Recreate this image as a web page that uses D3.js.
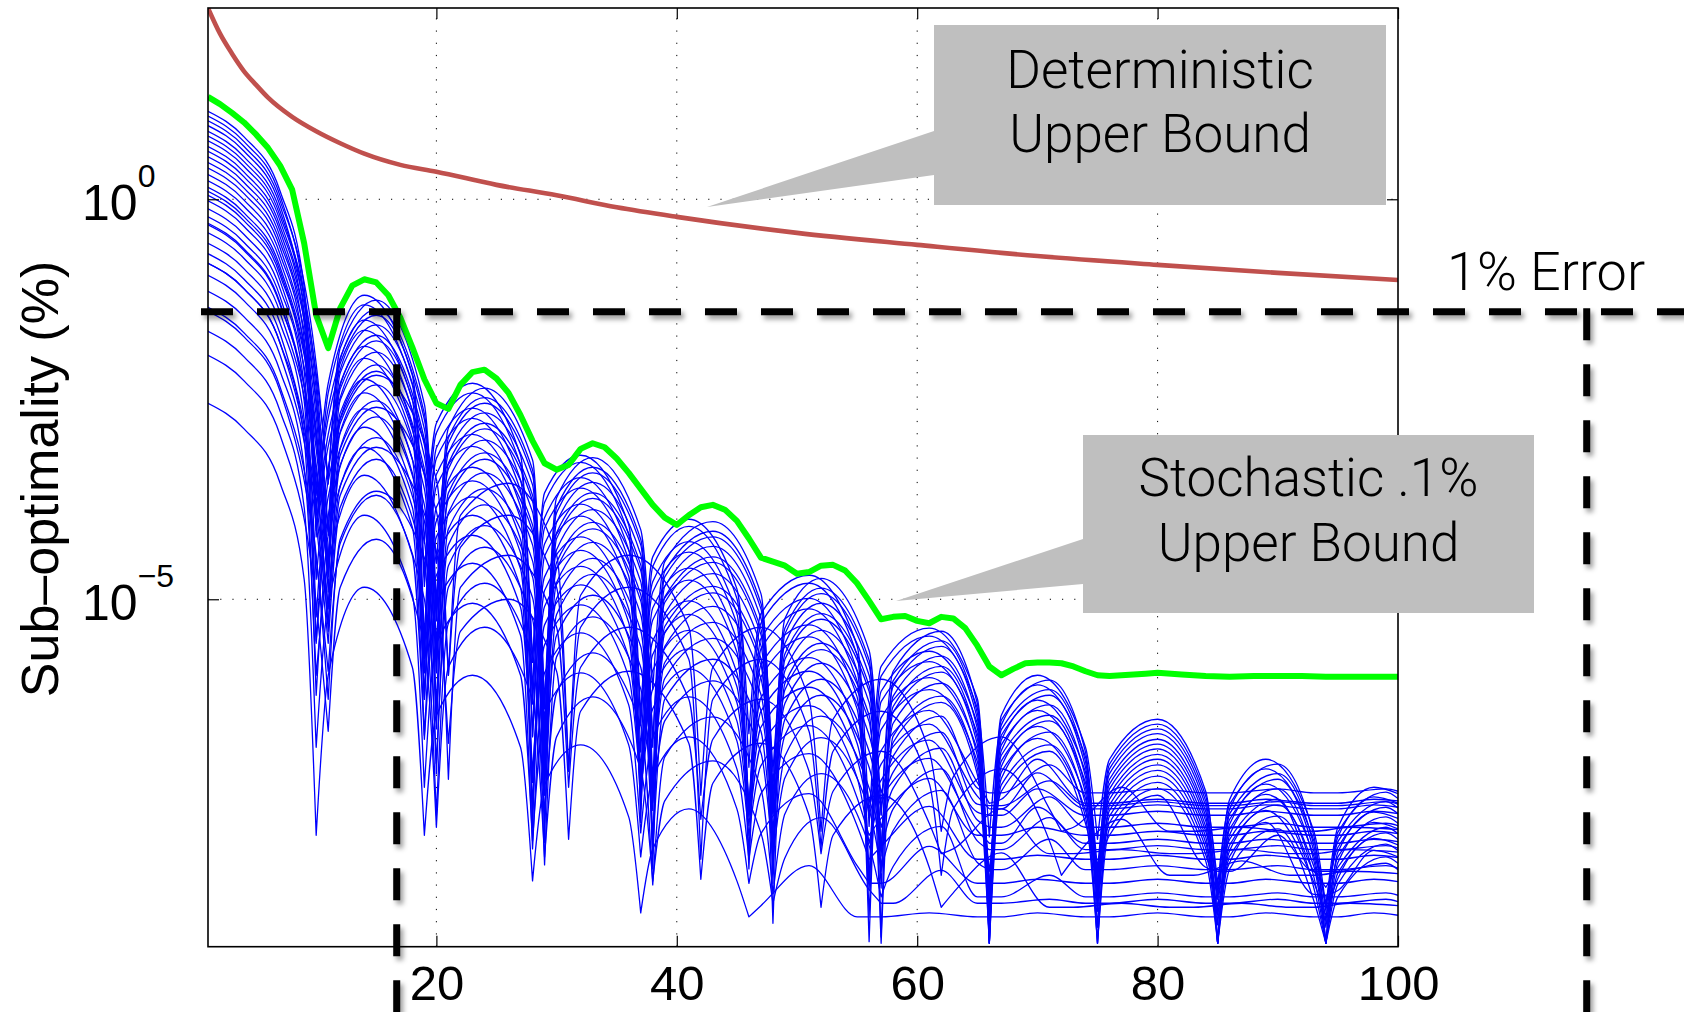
<!DOCTYPE html>
<html>
<head>
<meta charset="utf-8">
<script src="https://cdn.jsdelivr.net/npm/d3@7"></script>
<style>
  html, body { margin: 0; padding: 0; background: #fff; }
  svg { display: block; }
</style>
</head>
<body>
<svg id="chart" width="1684" height="1012"></svg>
<script>
// ---- Data (all error values are stored as log10 of the sub-optimality) ----

// Axis limits (log10) and ticks
const yMinLog10 = -9.343;
const yMaxLog10 = 2.391;
const xTickValues = [20, 40, 60, 80, 100];
const yTickExponents = [0, -5];

// Deterministic upper bound (red)
const deterministicBound = [
  [1, 2.39], [2, 2.07], [3, 1.82], [4, 1.60], [5, 1.43], [6, 1.27], [8, 1.03],
  [10, 0.85], [12, 0.70], [14, 0.57], [17, 0.43], [20, 0.345], [25, 0.18],
  [30, 0.05], [35, -0.10], [40, -0.22], [50, -0.42], [60, -0.57], [70, -0.71],
  [80, -0.82], [90, -0.92], [100, -1.01]
];

// Stochastic 0.1% upper bound (green)
const stochasticBound = [
  [1, 1.28], [2, 1.19], [3, 1.08], [4, 0.96], [5, 0.81], [6, 0.64], [7, 0.42], [8, 0.12],
  [9, -0.55], [10, -1.45], [11, -1.86], [12, -1.36], [13, -1.08], [14, -1.00], [15, -1.04],
  [16, -1.20], [17, -1.48], [18, -1.85], [19, -2.25], [20, -2.55], [21, -2.62], [22, -2.32],
  [23, -2.16], [24, -2.13], [25, -2.24], [26, -2.42], [27, -2.70], [28, -3.02], [29, -3.30],
  [30, -3.38], [31, -3.32], [32, -3.12], [33, -3.05], [34, -3.10], [35, -3.24], [36, -3.42],
  [37, -3.62], [38, -3.82], [39, -3.98], [40, -4.07], [41, -3.95], [42, -3.85], [43, -3.82],
  [44, -3.88], [45, -4.02], [46, -4.24], [47, -4.48], [48, -4.53], [49, -4.58], [50, -4.68],
  [51, -4.66], [52, -4.58], [53, -4.57], [54, -4.64], [55, -4.80], [56, -5.02], [57, -5.25],
  [58, -5.22], [59, -5.21], [60, -5.27], [61, -5.30], [62, -5.22], [63, -5.24], [64, -5.36],
  [65, -5.58], [66, -5.84], [67, -5.95], [68, -5.87], [69, -5.80], [70, -5.79], [71, -5.79],
  [72, -5.80], [73, -5.84], [74, -5.90], [75, -5.95], [76, -5.96], [77, -5.95], [78, -5.94],
  [79, -5.93], [80, -5.92], [82, -5.94], [84, -5.96], [86, -5.97], [88, -5.96], [90, -5.96],
  [92, -5.96], [94, -5.97], [96, -5.97], [98, -5.97], [100, -5.97]
];

// Sampled iterations of the individual runs (blue). Runs fall in three phase groups;
// each group lists the sample indices where a run hits a sharp minimum.
const iterationsPhaseA = [1, 4, 7, 9, 10, 11, 14, 18, 19, 20, 23, 27, 28, 29, 32, 36, 37, 38, 41, 45, 46,
  47, 51, 55, 56, 57, 61, 65, 66, 67, 70, 74, 75, 76, 80, 84, 85, 86, 89, 93, 94, 95, 98, 100];
const iterationsPhaseB = [1, 4, 7, 10, 11, 12, 15, 19, 20, 21, 24, 28, 29, 30, 33, 37, 38, 39, 43, 47, 48,
  49, 52, 56, 57, 58, 62, 65, 66, 67, 71, 74, 75, 76, 80, 84, 85, 86, 90, 93, 94, 95, 99, 100];
const iterationsPhaseC = [1, 4, 7, 10, 11, 12, 15, 20, 21, 22, 26, 30, 31, 32, 36, 41, 42, 43, 47, 51, 52,
  53, 57, 61, 62, 63, 67, 71, 72, 73, 77, 81, 82, 83, 87, 91, 92, 93, 96, 100];
const dipIndicesAB = [4, 8, 12, 16, 20, 24, 28, 32, 36, 40];
const dipIndicesC = [4, 8, 12, 16, 20, 24, 28, 32, 36];

const runsPhaseA = [
  [1.10,0.78,0.10,-1.10,-3.70, -2.30,-1.20,-2.20,-4.30, -2.80,-2.30,-3.20,-6.17, -3.67,-3.20,-4.07,-6.47, -4.47,-4.00,-4.87,-6.68, -5.18,-4.70,-5.58,-7.84, -5.84,-5.36,-6.24,-8.95, -6.45,-5.95,-6.85,-8.00, -7.00,-6.50,-7.40,-8.70, -7.50,-7.00,-7.90,-8.85, -7.85,-7.35,-7.43],
  [0.98,0.66,-0.02,-1.22,-4.22, -2.42,-1.32,-2.32,-4.72, -2.92,-2.42,-3.32,-5.79, -3.79,-3.29,-4.19,-7.79, -4.59,-4.09,-4.99,-7.10, -5.30,-4.80,-5.70,-8.56, -5.96,-5.46,-6.36,-7.97, -6.57,-6.07,-6.97,-8.90, -7.12,-6.62,-7.52,-8.90, -7.62,-7.12,-8.02,-8.90, -7.97,-7.47,-7.55],
  [0.79,0.47,-0.21,-1.41,-3.91, -2.61,-1.51,-2.51,-5.51, -3.11,-2.61,-3.51,-5.78, -3.98,-3.48,-4.38,-6.58, -4.78,-4.28,-5.18,-7.69, -5.49,-4.99,-5.89,-8.55, -6.15,-5.65,-6.55,-9.30, -6.76,-6.26,-7.16,-8.71, -7.31,-6.81,-7.71,-9.30, -7.81,-7.31,-8.21,-9.30, -8.16,-7.66,-7.74],
  [0.66,0.34,-0.34,-1.54,-3.84, -2.74,-1.64,-2.64,-4.84, -3.24,-2.74,-3.64,-6.71, -4.11,-3.61,-4.51,-6.91, -4.91,-4.41,-5.31,-8.22, -5.62,-5.12,-6.02,-9.28, -6.28,-5.78,-6.68,-9.29, -6.89,-6.39,-7.29,-8.44, -7.44,-6.94,-7.84,-9.30, -7.94,-7.44,-8.34,-9.30, -8.29,-7.79,-7.87],
  [0.46,0.14,-0.54,-1.74,-4.14, -2.94,-1.84,-2.84,-5.74, -3.44,-2.94,-3.84,-6.31, -4.31,-3.81,-4.71,-7.51, -5.11,-4.61,-5.51,-7.72, -5.82,-5.32,-6.22,-8.95, -6.48,-5.98,-6.88,-8.95, -7.09,-6.59,-7.49,-8.84, -7.64,-7.14,-8.04,-8.95, -8.14,-7.64,-8.54,-8.95, -8.49,-7.99,-8.07],
  [0.31,-0.01,-0.69,-1.89,-4.09, -3.09,-1.99,-2.99,-5.69, -3.59,-3.09,-3.99,-7.86, -4.46,-3.96,-4.86,-7.16, -5.26,-4.76,-5.66,-8.37, -5.97,-5.47,-6.37,-8.63, -6.63,-6.13,-7.03,-8.70, -7.24,-6.74,-7.64,-8.70, -7.79,-7.29,-8.19,-8.70, -8.29,-7.79,-8.69,-8.70, -8.64,-8.14,-8.22],
  [0.05,-0.27,-0.95,-2.15,-4.75, -3.35,-2.25,-3.25,-6.25, -3.85,-3.35,-4.25,-6.72, -4.72,-4.22,-5.12,-7.32, -5.52,-5.02,-5.92,-7.55, -6.23,-5.73,-6.63,-7.55, -6.89,-6.39,-7.29,-7.55, -7.50,-7.00,-7.55,-7.55, -7.55,-7.50,-7.55,-7.55, -7.55,-7.50,-7.55,-7.55, -7.55,-7.50,-7.52],
  [-0.12,-0.44,-1.12,-2.32,-5.22, -3.52,-2.42,-3.42,-5.92, -4.02,-3.52,-4.42,-7.62, -4.89,-4.39,-5.29,-7.62, -5.69,-5.19,-6.09,-7.62, -6.40,-5.90,-6.80,-7.62, -7.06,-6.56,-7.46,-7.62, -7.62,-7.17,-7.62,-7.62, -7.62,-7.57,-7.62,-7.62, -7.62,-7.57,-7.62,-7.62, -7.62,-7.57,-7.60],
  [-0.32,-0.64,-1.32,-2.52,-5.52, -3.72,-2.62,-3.62,-6.22, -4.22,-3.72,-4.62,-7.29, -5.09,-4.59,-5.49,-7.49, -5.89,-5.39,-6.29,-7.70, -6.60,-6.10,-7.00,-7.70, -7.26,-6.76,-7.66,-7.70, -7.70,-7.37,-7.70,-7.70, -7.70,-7.65,-7.70,-7.70, -7.70,-7.65,-7.70,-7.70, -7.70,-7.65,-7.68],
  [-0.55,-0.87,-1.55,-2.75,-5.55, -3.95,-2.85,-3.85,-6.25, -4.45,-3.95,-4.85,-7.72, -5.32,-4.82,-5.72,-7.32, -6.12,-5.62,-6.52,-7.83, -6.83,-6.33,-7.23,-8.05, -7.49,-6.99,-7.89,-8.05, -8.05,-7.60,-8.05,-8.05, -8.05,-8.00,-8.05,-8.05, -8.05,-8.00,-8.05,-8.05, -8.05,-8.00,-8.03],
  [-0.80,-1.12,-1.80,-3.00,-6.20, -4.20,-3.10,-4.10,-6.70, -4.70,-4.20,-5.10,-7.17, -5.57,-5.07,-5.97,-7.37, -6.37,-5.87,-6.77,-7.95, -7.08,-6.58,-7.48,-7.95, -7.74,-7.24,-7.95,-7.95, -7.95,-7.85,-7.95,-7.95, -7.95,-7.90,-7.95,-7.95, -7.95,-7.90,-7.95,-7.95, -7.95,-7.90,-7.93],
  [-1.15,-1.47,-2.15,-3.35,-5.95, -4.55,-3.45,-4.45,-6.75, -5.05,-4.55,-5.45,-8.12, -5.92,-5.42,-6.32,-7.92, -6.72,-6.22,-7.12,-8.25, -7.43,-6.93,-7.83,-8.25, -8.09,-7.59,-8.25,-8.25, -8.25,-8.20,-8.25,-8.25, -8.25,-8.20,-8.25,-8.25, -8.25,-8.20,-8.25,-8.25, -8.25,-8.20,-8.23],
  [-1.65,-1.97,-2.65,-3.85,-6.85, -5.05,-3.95,-4.95,-7.35, -5.55,-5.05,-5.95,-8.02, -6.42,-5.92,-6.82,-8.22, -7.22,-6.72,-7.62,-8.55, -7.93,-7.43,-8.33,-8.55, -8.55,-8.09,-8.55,-8.55, -8.55,-8.50,-8.55,-8.55, -8.55,-8.50,-8.55,-8.55, -8.55,-8.50,-8.55,-8.55, -8.55,-8.50,-8.53],
  [-2.55,-2.87,-3.55,-4.75,-7.95, -5.95,-4.85,-5.85,-7.95, -6.45,-5.95,-6.85,-8.52, -7.32,-6.82,-7.72,-8.92, -8.12,-7.62,-8.52,-8.97, -8.83,-8.33,-8.97,-8.97, -8.97,-8.92,-8.97,-8.97, -8.97,-8.92,-8.97,-8.97, -8.97,-8.92,-8.97,-8.97, -8.97,-8.92,-8.97,-8.97, -8.97,-8.92,-8.95]
];

const runsPhaseB = [
  [1.04,0.72,0.04,-2.06,-3.56, -1.86,-1.26,-2.56,-5.06, -2.86,-2.36,-3.26,-6.73, -3.73,-3.23,-4.13,-6.13, -4.53,-4.03,-4.93,-7.64, -5.24,-4.74,-5.64,-7.70, -5.90,-5.40,-6.30,-9.30, -6.51,-6.01,-6.91,-8.56, -7.06,-6.56,-7.46,-8.56, -7.56,-7.06,-7.96,-9.30, -7.91,-7.41,-7.49],
  [0.92,0.60,-0.08,-2.18,-3.48, -1.98,-1.38,-2.68,-5.78, -2.98,-2.48,-3.38,-7.45, -3.85,-3.35,-4.25,-6.85, -4.65,-4.15,-5.05,-7.36, -5.36,-4.86,-5.76,-9.22, -6.02,-5.52,-6.42,-8.83, -6.63,-6.13,-7.03,-8.38, -7.18,-6.68,-7.58,-9.30, -7.68,-7.18,-8.08,-9.03, -8.03,-7.53,-7.61],
  [0.85,0.53,-0.15,-2.25,-4.15, -2.05,-1.45,-2.75,-4.55, -3.05,-2.55,-3.45,-6.32, -3.92,-3.42,-4.32,-7.32, -4.72,-4.22,-5.12,-8.43, -5.43,-4.93,-5.83,-7.69, -6.09,-5.59,-6.49,-8.80, -6.70,-6.20,-7.10,-8.80, -7.25,-6.75,-7.65,-8.75, -7.75,-7.25,-8.15,-8.80, -8.10,-7.60,-7.68],
  [0.73,0.41,-0.27,-2.37,-4.67, -2.17,-1.57,-2.87,-5.17, -3.17,-2.67,-3.57,-7.24, -4.04,-3.54,-4.44,-7.64, -4.84,-4.34,-5.24,-7.15, -5.55,-5.05,-5.95,-8.21, -6.21,-5.71,-6.61,-8.62, -6.82,-6.32,-7.22,-9.10, -7.37,-6.87,-7.77,-9.07, -7.87,-7.37,-8.27,-9.10, -8.22,-7.72,-7.80],
  [0.60,0.28,-0.40,-2.50,-4.20, -2.30,-1.70,-3.00,-5.90, -3.30,-2.80,-3.70,-6.37, -4.17,-3.67,-4.57,-8.37, -4.97,-4.47,-5.37,-7.68, -5.68,-5.18,-6.08,-8.14, -6.34,-5.84,-6.74,-8.60, -6.95,-6.45,-7.35,-8.60, -7.50,-7.00,-7.90,-8.60, -8.00,-7.50,-8.40,-8.60, -8.35,-7.85,-7.93],
  [0.53,0.21,-0.47,-2.57,-4.57, -2.37,-1.77,-3.07,-5.27, -3.37,-2.87,-3.77,-8.04, -4.24,-3.74,-4.64,-6.74, -5.04,-4.54,-5.44,-8.55, -5.75,-5.25,-6.15,-8.61, -6.41,-5.91,-6.81,-9.02, -7.02,-6.52,-7.42,-9.30, -7.57,-7.07,-7.97,-9.30, -8.07,-7.57,-8.47,-9.30, -8.42,-7.92,-8.00],
  [0.39,0.07,-0.61,-2.71,-4.91, -2.51,-1.91,-3.21,-5.21, -3.51,-3.01,-3.91,-7.18, -4.38,-3.88,-4.78,-8.18, -5.18,-4.68,-5.58,-8.09, -5.89,-5.39,-6.29,-8.15, -6.55,-6.05,-6.95,-9.30, -7.16,-6.66,-7.56,-9.30, -7.71,-7.21,-8.11,-9.30, -8.21,-7.71,-8.61,-9.30, -8.56,-8.06,-8.14],
  [0.23,-0.09,-0.77,-2.87,-4.67, -2.67,-2.07,-3.37,-6.37, -3.67,-3.17,-4.07,-6.94, -4.54,-4.04,-4.94,-7.54, -5.34,-4.84,-5.74,-9.05, -6.05,-5.55,-6.45,-9.30, -6.71,-6.21,-7.11,-9.30, -7.32,-6.82,-7.72,-9.30, -7.87,-7.37,-8.27,-9.30, -8.37,-7.87,-8.77,-9.30, -8.72,-8.22,-8.30],
  [0.15,-0.17,-0.85,-2.95,-4.55, -2.75,-2.15,-3.45,-5.55, -3.75,-3.25,-4.15,-6.82, -4.62,-4.12,-5.02,-8.02, -5.42,-4.92,-5.82,-7.93, -6.13,-5.63,-6.53,-8.40, -6.79,-6.29,-7.19,-8.40, -7.40,-6.90,-7.80,-8.40, -7.95,-7.45,-8.35,-8.40, -8.40,-7.95,-8.40,-8.40, -8.40,-8.30,-8.38],
  [-0.02,-0.34,-1.02,-3.12,-4.62, -2.92,-2.32,-3.62,-5.92, -3.92,-3.42,-4.32,-7.39, -4.79,-4.29,-5.19,-7.42, -5.59,-5.09,-5.99,-7.42, -6.30,-5.80,-6.70,-7.42, -6.96,-6.46,-7.36,-7.42, -7.42,-7.07,-7.42,-7.42, -7.42,-7.37,-7.42,-7.42, -7.42,-7.37,-7.42,-7.42, -7.42,-7.37,-7.40],
  [-0.22,-0.54,-1.22,-3.32,-4.72, -3.12,-2.52,-3.82,-6.62, -4.12,-3.62,-4.52,-6.59, -4.99,-4.49,-5.39,-7.39, -5.79,-5.29,-6.19,-7.58, -6.50,-6.00,-6.90,-7.58, -7.16,-6.66,-7.56,-7.58, -7.58,-7.27,-7.58,-7.58, -7.58,-7.53,-7.58,-7.58, -7.58,-7.53,-7.58,-7.58, -7.58,-7.53,-7.56],
  [-0.42,-0.74,-1.42,-3.52,-5.12, -3.32,-2.72,-4.02,-6.52, -4.32,-3.82,-4.72,-7.79, -5.19,-4.69,-5.59,-7.39, -5.99,-5.49,-6.39,-7.70, -6.70,-6.20,-7.10,-7.85, -7.36,-6.86,-7.76,-7.85, -7.85,-7.47,-7.85,-7.85, -7.85,-7.80,-7.85,-7.85, -7.85,-7.80,-7.85,-7.85, -7.85,-7.80,-7.83],
  [-0.68,-1.00,-1.68,-3.78,-5.08, -3.58,-2.98,-4.28,-7.18, -4.58,-4.08,-4.98,-7.25, -5.45,-4.95,-5.85,-8.13, -6.25,-5.75,-6.65,-8.13, -6.96,-6.46,-7.36,-8.13, -7.62,-7.12,-8.02,-8.13, -8.13,-7.73,-8.13,-8.13, -8.13,-8.08,-8.13,-8.13, -8.13,-8.08,-8.13,-8.13, -8.13,-8.08,-8.11],
  [-0.95,-1.27,-1.95,-4.05,-5.55, -3.85,-3.25,-4.55,-7.05, -4.85,-4.35,-5.25,-8.32, -5.72,-5.22,-6.12,-7.52, -6.52,-6.02,-6.92,-8.23, -7.23,-6.73,-7.63,-8.38, -7.89,-7.39,-8.29,-8.38, -8.38,-8.00,-8.38,-8.38, -8.38,-8.33,-8.38,-8.38, -8.38,-8.33,-8.38,-8.38, -8.38,-8.33,-8.36],
  [-1.40,-1.72,-2.40,-4.50,-5.90, -4.30,-3.70,-5.00,-7.70, -5.30,-4.80,-5.70,-7.67, -6.17,-5.67,-6.57,-8.57, -6.97,-6.47,-7.37,-8.68, -7.68,-7.18,-8.08,-8.72, -8.34,-7.84,-8.72,-8.72, -8.72,-8.45,-8.72,-8.72, -8.72,-8.67,-8.72,-8.72, -8.72,-8.67,-8.72,-8.72, -8.72,-8.67,-8.70],
  [-1.95,-2.27,-2.95,-5.05,-6.65, -4.85,-4.25,-5.55,-7.85, -5.85,-5.35,-6.25,-8.22, -6.72,-6.22,-7.12,-8.52, -7.52,-7.02,-7.92,-8.80, -8.23,-7.73,-8.63,-8.80, -8.80,-8.39,-8.80,-8.80, -8.80,-8.75,-8.80,-8.80, -8.80,-8.75,-8.80,-8.80, -8.80,-8.75,-8.80,-8.80, -8.80,-8.75,-8.78]
];

// Runs whose oscillation drifts out of step with the others
const runsPhaseC = [
  [0.10,-0.22,-0.90,-3.00,-4.60, -2.80,-2.20,-3.50,-5.95, -3.95,-3.55,-4.45,-7.15, -4.95,-4.45,-5.35,-7.45, -5.85,-5.35,-6.25,-7.90, -6.50,-6.00,-6.90,-7.90, -7.22,-6.72,-7.62,-7.90, -7.85,-7.35,-7.90,-7.90, -7.90,-7.85,-7.90,-7.90, -7.90,-7.85,-7.88],
  [-0.30,-0.62,-1.30,-3.40,-5.40, -3.20,-2.60,-3.90,-5.95, -4.35,-3.95,-4.85,-7.15, -5.35,-4.85,-5.75,-8.25, -6.25,-5.75,-6.65,-8.10, -6.90,-6.40,-7.30,-8.45, -7.62,-7.12,-8.02,-8.45, -8.25,-7.75,-8.45,-8.45, -8.45,-8.27,-8.45,-8.45, -8.45,-8.40,-8.43],
  [-0.80,-1.12,-1.80,-3.90,-5.30, -3.70,-3.10,-4.40,-7.25, -4.85,-4.45,-5.35,-7.35, -5.85,-5.35,-6.25,-7.75, -6.75,-6.25,-7.15,-8.18, -7.40,-6.90,-7.80,-8.18, -8.12,-7.62,-8.18,-8.18, -8.18,-8.13,-8.18,-8.18, -8.18,-8.13,-8.18,-8.18, -8.18,-8.13,-8.16],
  [-1.35,-1.67,-2.35,-4.45,-6.25, -4.25,-3.65,-4.95,-6.80, -5.40,-5.00,-5.90,-8.00, -6.40,-5.90,-6.80,-8.50, -7.30,-6.80,-7.70,-8.85, -7.95,-7.45,-8.35,-8.85, -8.67,-8.17,-8.85,-8.85, -8.85,-8.80,-8.85,-8.85, -8.85,-8.80,-8.85,-8.85, -8.85,-8.80,-8.83]
];

// 1% error threshold (log10) and the iterations where the bounds cross it
const errorLevelLog10 = -1.405;
const crossingIterations = [16.7, 115.7];

// Annotation texts
const deterministicLabel = ['Deterministic', 'Upper Bound'];
const stochasticLabel = ['Stochastic .1%', 'Upper Bound'];
const errorLabel = '1% Error';
const yAxisLabel = 'Sub\u2013optimality (%)';

// ---- Drawing ----
const W = 1684, H = 1012;
const plot = { left: 208, right: 1398, top: 8, bottom: 946.7 };
const svg = d3.select('#chart');

const x = d3.scaleLinear().domain([1, 100]).range([plot.left, plot.right]);
const y = d3.scaleLog()
  .domain([Math.pow(10, yMinLog10), Math.pow(10, yMaxLog10)])
  .range([plot.bottom, plot.top]);
const yv = (lg) => y(Math.pow(10, lg));

const defs = svg.append('defs');
defs.append('clipPath').attr('id', 'plotClip')
  .append('rect')
  .attr('x', plot.left).attr('y', plot.top)
  .attr('width', plot.right - plot.left).attr('height', plot.bottom - plot.top);
defs.append('filter').attr('id', 'dashShadow')
  .attr('filterUnits', 'userSpaceOnUse')
  .attr('x', 0).attr('y', 0).attr('width', W).attr('height', H)
  .append('feDropShadow')
  .attr('dx', 3).attr('dy', 4).attr('stdDeviation', 2.6)
  .attr('flood-color', '#000').attr('flood-opacity', 0.38);

const sansFont = '"Liberation Sans", Arial, Helvetica, sans-serif';
const lightFont = 'Roboto, "Liberation Sans", Arial, sans-serif';

// Dotted grid
const grid = svg.append('g')
  .attr('stroke', '#000').attr('stroke-width', 1)
  .attr('stroke-dasharray', '1.2 11').attr('fill', 'none');
xTickValues.filter(v => v < 100).forEach(v => {
  grid.append('line')
    .attr('x1', x(v)).attr('x2', x(v))
    .attr('y1', plot.bottom).attr('y2', plot.top);
});
yTickExponents.forEach(e => {
  grid.append('line')
    .attr('x1', plot.left).attr('x2', plot.right)
    .attr('y1', yv(e)).attr('y2', yv(e));
});

// Data layer
const dataLayer = svg.append('g').attr('clip-path', 'url(#plotClip)');

const runLine = d3.line()
  .x(d => x(d[0]))
  .y(d => yv(d[1]))
  .curve(d3.curveMonotoneX);

// Each run is drawn arch by arch so the minima stay sharp.
function runPath(iterations, values, dips) {
  const pts = iterations.map((it, i) => [it, values[i]]);
  const cuts = [0, ...dips, pts.length - 1];
  let d = '';
  for (let k = 0; k < cuts.length - 1; k++) {
    d += runLine(pts.slice(cuts[k], cuts[k + 1] + 1));
  }
  return d;
}

const runsLayer = dataLayer.append('g')
  .attr('fill', 'none').attr('stroke', '#0000ff')
  .attr('stroke-width', 1.3).attr('stroke-linejoin', 'round').attr('stroke-linecap', 'round');
runsPhaseA.forEach(vals => runsLayer.append('path').attr('d', runPath(iterationsPhaseA, vals, dipIndicesAB)));
runsPhaseB.forEach(vals => runsLayer.append('path').attr('d', runPath(iterationsPhaseB, vals, dipIndicesAB)));
runsPhaseC.forEach(vals => runsLayer.append('path').attr('d', runPath(iterationsPhaseC, vals, dipIndicesC)));

dataLayer.append('path')
  .datum(deterministicBound)
  .attr('fill', 'none').attr('stroke', '#c0504d').attr('stroke-width', 4.6)
  .attr('d', d3.line().x(d => x(d[0])).y(d => yv(d[1])).curve(d3.curveMonotoneX));

dataLayer.append('path')
  .datum(stochasticBound)
  .attr('fill', 'none').attr('stroke', '#00ff00').attr('stroke-width', 6)
  .attr('stroke-linejoin', 'round')
  .attr('d', d3.line().x(d => x(d[0])).y(d => yv(d[1])));

// Axes box and ticks
const tickLen = 11;
svg.append('rect')
  .attr('x', plot.left).attr('y', plot.top)
  .attr('width', plot.right - plot.left).attr('height', plot.bottom - plot.top)
  .attr('fill', 'none').attr('stroke', '#000').attr('stroke-width', 1.6);

const xAxis = svg.append('g')
  .attr('transform', `translate(0,${plot.bottom})`)
  .call(d3.axisBottom(x).tickValues(xTickValues).tickSizeInner(-tickLen).tickSizeOuter(0)
    .tickPadding(19).tickFormat(d3.format('d')));
xAxis.select('.domain').remove();
xAxis.selectAll('.tick line').attr('stroke', '#000').attr('stroke-width', 1.2);
xAxis.selectAll('.tick text')
  .attr('font-family', sansFont).attr('font-size', 49).attr('fill', '#000');

const xAxisTop = svg.append('g')
  .attr('transform', `translate(0,${plot.top})`)
  .call(d3.axisTop(x).tickValues(xTickValues).tickSizeInner(-tickLen).tickSizeOuter(0).tickFormat(''));
xAxisTop.select('.domain').remove();
xAxisTop.selectAll('.tick line').attr('stroke', '#000').attr('stroke-width', 1.2);

const yTickValues = yTickExponents.map(e => Math.pow(10, e));
const yAxisL = svg.append('g')
  .attr('transform', `translate(${plot.left},0)`)
  .call(d3.axisLeft(y).tickValues(yTickValues).tickSizeInner(-tickLen).tickSizeOuter(0).tickFormat(''));
yAxisL.select('.domain').remove();
yAxisL.selectAll('.tick line').attr('stroke', '#000').attr('stroke-width', 1.2);

const yAxisR = svg.append('g')
  .attr('transform', `translate(${plot.right},0)`)
  .call(d3.axisRight(y).tickValues(yTickValues).tickSizeInner(-tickLen).tickSizeOuter(0).tickFormat(''));
yAxisR.select('.domain').remove();
yAxisR.selectAll('.tick line').attr('stroke', '#000').attr('stroke-width', 1.2);

// Power-of-ten tick labels
yTickExponents.forEach(e => {
  const t = svg.append('text')
    .attr('x', 82).attr('y', yv(e) + 21)
    .attr('font-family', sansFont).attr('font-size', 50).attr('fill', '#000');
  t.append('tspan').text('10');
  t.append('tspan').attr('dy', -33).attr('font-size', 32)
    .text(e < 0 ? '\u2212' + Math.abs(e) : String(e));
});

svg.append('text')
  .attr('transform', 'translate(58,479) rotate(-90)')
  .attr('text-anchor', 'middle')
  .attr('font-family', sansFont).attr('font-size', 52).attr('fill', '#000')
  .text(yAxisLabel);

// 1% error threshold with drop lines
const dashLayer = svg.append('g')
  .attr('filter', 'url(#dashShadow)')
  .attr('stroke', '#000').attr('stroke-width', 7)
  .attr('stroke-dasharray', '32 24').attr('fill', 'none');
const yErr = yv(errorLevelLog10);
dashLayer.append('line')
  .attr('x1', plot.left - 7).attr('x2', W)
  .attr('y1', yErr).attr('y2', yErr);
crossingIterations.forEach(it => {
  dashLayer.append('line')
    .attr('x1', x(it)).attr('x2', x(it))
    .attr('y1', yErr - 3.5).attr('y2', H);
});

svg.append('text')
  .attr('x', 1447).attr('y', 290)
  .attr('font-family', lightFont).attr('font-weight', 300)
  .attr('font-size', 54).attr('fill', '#000')
  .text(errorLabel);

// Callouts
function callout(box, tip, base, lines, baselines) {
  const g = svg.append('g');
  g.append('polygon')
    .attr('points', [[box.x, base[0]], tip, [box.x, base[1]]].map(p => p.join(',')).join(' '))
    .attr('fill', '#bfbfbf');
  g.append('rect')
    .attr('x', box.x).attr('y', box.y).attr('width', box.w).attr('height', box.h)
    .attr('fill', '#bfbfbf');
  lines.forEach((ln, i) => {
    g.append('text')
      .attr('x', box.x + box.w / 2).attr('y', baselines[i])
      .attr('text-anchor', 'middle')
      .attr('font-family', lightFont).attr('font-weight', 300)
      .attr('font-size', 53).attr('fill', '#000')
      .text(ln);
  });
}

callout({ x: 934, y: 25, w: 452, h: 180 }, [707, 207], [131, 175], deterministicLabel, [88, 152]);
callout({ x: 1083, y: 435, w: 451, h: 178 }, [896, 601], [539, 584], stochasticLabel, [496, 561]);
</script>
</body>
</html>
